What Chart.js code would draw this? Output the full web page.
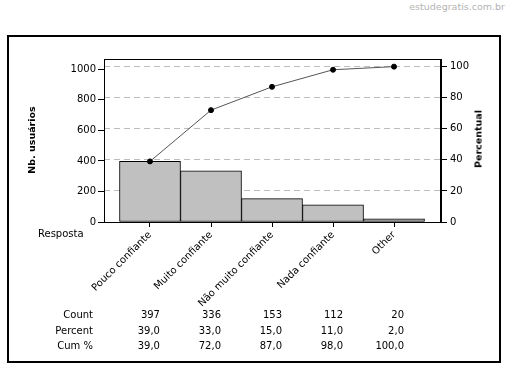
<!DOCTYPE html>
<html>
<head>
<meta charset="utf-8">
<script src="https://cdn.jsdelivr.net/npm/chart.js@4.4.0/dist/chart.umd.min.js"></script>
<style>
    body { margin: 0; background: #fff; font-family: "DejaVu Sans", sans-serif; }
    #wrap { position: relative; width: 508px; height: 365px; overflow: hidden; }
    #frame { position: absolute; left: 7px; top: 35px; width: 494px; height: 328px; border: 2px solid #000; box-sizing: border-box; }
    canvas { position: absolute; left: 0; top: 0; }
    .txt { position: absolute; white-space: nowrap; font-size: 10px; color: #000; line-height: 12px; }
    .right { text-align: right; }
    .vtitle { position: absolute; font-weight: bold; font-size: 9.5px; white-space: nowrap; transform: translate(-50%, -50%) rotate(-90deg); }
    #mark { position: absolute; right: 3px; top: 1px; font-size: 9.5px; color: #b4b4b4; }
</style>
</head>
<body>
<div id="wrap">
    <div id="mark">estudegratis.com.br</div>
    <div id="frame"></div>
    <canvas id="paretoChart" width="508" height="365"></canvas>
    <div class="vtitle" style="left:31px; top:140px;">Nb. usuários</div>
    <div class="vtitle" style="left:478px; top:139px;">Percentual</div>
    <div class="txt" style="left:38px; top:228px;">Resposta</div>
    <div id="table"></div>
</div>
<script>
const categories = ["Pouco confiante", "Muito confiante", "Não muito confiante", "Nada confiante", "Other"];
const counts = [397, 336, 153, 112, 20];
const percents = [39.0, 33.0, 15.0, 11.0, 2.0];
const cumPercents = [39.0, 72.0, 87.0, 98.0, 100.0];
const countTicks = [0, 200, 400, 600, 800, 1000];
const percentTicks = [0, 20, 40, 60, 80, 100];
const rowLabels = ["Count", "Percent", "Cum %"];

const total = counts.reduce((a, b) => a + b, 0);
const countMax = 1068;

Chart.defaults.font.family = "'DejaVu Sans', sans-serif";
Chart.defaults.font.size = 10;
Chart.defaults.color = "#000";

const fmt = (v) => v.toFixed(1).replace(".", ",");

const frameBox = {
    id: "frameBox",
    afterDatasetsDraw(chart) {
        const { ctx, chartArea } = chart;
        ctx.save();
        ctx.strokeStyle = "#000";
        ctx.lineWidth = 1;
        ctx.strokeRect(chartArea.left + 0.5, chartArea.top + 0.5,
            chartArea.right - chartArea.left - 1, chartArea.bottom - chartArea.top);
        ctx.restore();
    },
};

const zeroPad = (scale) => {
    scale.paddingLeft = 0;
    scale.paddingRight = 0;
    scale.paddingTop = 0;
    scale.paddingBottom = 0;
};

const chart = new Chart(document.getElementById("paretoChart"), {
    type: "bar",
    data: {
        datasets: [
            {
                type: "line",
                data: cumPercents.map((v, i) => ({ x: i, y: v })),
                yAxisID: "y1",
                borderColor: "#555",
                borderWidth: 1,
                pointRadius: 2.5,
                pointBackgroundColor: "#000",
                pointBorderColor: "#000",
                tension: 0,
                order: 0,
            },
            {
                type: "bar",
                data: counts.map((v, i) => ({ x: i, y: v })),
                yAxisID: "y",
                backgroundColor: "#c0c0c0",
                borderColor: "#000",
                borderWidth: 1,
                borderSkipped: false,
                categoryPercentage: 1,
                barPercentage: 1,
                order: 1,
            },
        ],
    },
    options: {
        responsive: false,
        animation: false,
        layout: { padding: { top: 59, left: 0, right: 0, bottom: 0 }, autoPadding: false },
        plugins: { legend: { display: false }, tooltip: { enabled: false } },
        scales: {
            x: {
                type: "linear",
                offset: false,
                min: -0.754,
                max: 4.77,
                afterBuildTicks: (scale) => { scale.ticks = categories.map((c, i) => ({ value: i })); },
                afterFit: (scale) => { scale.height = 143; zeroPad(scale); },
                ticks: {
                    autoSkip: false,
                    minRotation: 45,
                    maxRotation: 45,
                    padding: 2,
                    callback: (v) => categories[v],
                },
                grid: { offset: false, drawOnChartArea: false, tickLength: 5, tickColor: "#000", color: "#000" },
                border: { color: "#000" },
            },
            y: {
                position: "left",
                min: 0,
                max: countMax,
                afterBuildTicks: (scale) => { scale.ticks = countTicks.map((v) => ({ value: v })); },
                afterFit: (scale) => { scale.width = 104; zeroPad(scale); },
                ticks: { padding: 2, callback: (v) => String(v) },
                grid: { drawOnChartArea: false, tickLength: 6, tickColor: "#000", color: "#000" },
                border: { color: "#000" },
            },
            y1: {
                position: "right",
                min: 0,
                max: countMax / total * 100,
                afterBuildTicks: (scale) => { scale.ticks = percentTicks.map((v) => ({ value: v })); },
                afterFit: (scale) => { scale.width = 67; zeroPad(scale); },
                ticks: { padding: 3, callback: (v) => String(v) },
                grid: { drawOnChartArea: true, tickLength: 6, tickColor: "#000", tickBorderDash: [1, 0], color: "#bdbdbd" },
                border: { color: "#000", dash: [6, 4] },
            },
        },
    },
    plugins: [frameBox],
});

// table under the chart, columns follow the x scale
const table = document.getElementById("table");
const rows = [counts.map(String), percents.map(fmt), cumPercents.map(fmt)];
const rowTops = [309, 325, 340];
rows.forEach((row, r) => {
    const lab = document.createElement("div");
    lab.className = "txt right";
    lab.style.left = "0px";
    lab.style.width = "93px";
    lab.style.top = rowTops[r] + "px";
    lab.textContent = rowLabels[r];
    table.appendChild(lab);
    row.forEach((val, i) => {
        const px = chart.scales.x.getPixelForValue(i) + 10;
        const d = document.createElement("div");
        d.className = "txt right";
        d.style.left = (px - 60) + "px";
        d.style.width = "60px";
        d.style.top = rowTops[r] + "px";
        d.textContent = val;
        table.appendChild(d);
    });
});
</script>
</body>
</html>
